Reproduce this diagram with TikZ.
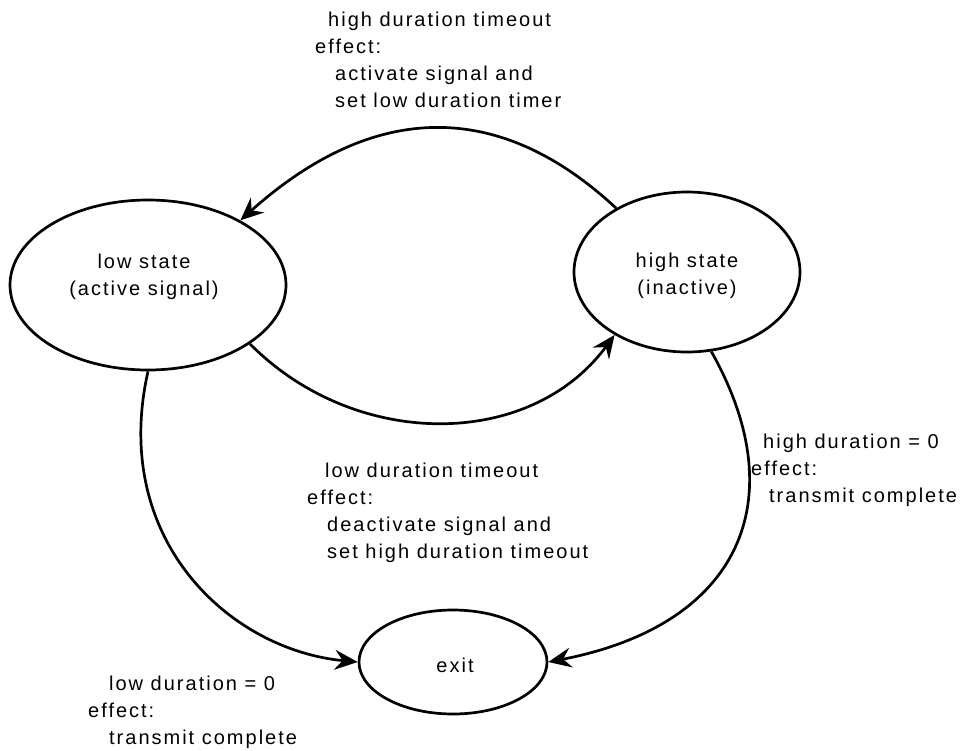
\documentclass[tikz,border=0pt]{standalone}
\usepackage{fontspec}
\setmainfont[LetterSpace=10]{Liberation Sans}
\usetikzlibrary{arrows.meta,shapes.geometric}
\begin{document}
\begin{tikzpicture}[x=1pt,y=-1pt,
  stateshape/.style={draw,ellipse,line width=2.7pt,inner sep=0pt},
  lbl/.style={anchor=north west,inner sep=0pt,align=left,font=\fontsize{20}{27}\selectfont},
  stxt/.style={anchor=north,inner sep=0pt,align=center,font=\fontsize{20}{27}\selectfont},
  conn/.style={line width=2.7pt,-{Stealth[length=23pt,width=20pt,inset=8pt]}}]
\useasboundingbox (0,0) rectangle (969,750);
\node[stateshape,minimum width=276pt,minimum height=170pt] (low) at (148,285) {};
\node[stateshape,minimum width=226pt,minimum height=160pt] (high) at (687,272) {};
\node[stateshape,minimum width=188pt,minimum height=104pt] (exit) at (453,662) {};
\node[stxt] (lowtxt) at (144,253.7) {low state\\(active signal)};
\node[stxt] (hightxt) at (687,252.7) {high state\\(inactive)};
\node[stxt] (exittxt) at (455,657.7) {exit};
\node[lbl] (toplbl) at (315,11.7) {\hspace*{13pt}high duration timeout\\effect:\\\hspace*{20pt}activate signal and\\\hspace*{20pt}set low duration timer};
\node[lbl] (midlbl) at (307,462.7) {\hspace*{18pt}low duration timeout\\effect:\\\hspace*{20pt}deactivate signal and\\\hspace*{20pt}set high duration timeout};
\node[lbl] (rightlbl) at (751,433.7) {\hspace*{12pt}high duration = 0\\effect:\\\hspace*{18pt}transmit complete};
\node[lbl] (leftlbl) at (88,675.7) {\hspace*{21pt}low duration = 0\\effect:\\\hspace*{21pt}transmit complete};
\draw[conn] (high.138) .. controls (500,100) and (375,100) .. (low.35);
\draw[conn] (low.-30) .. controls (355,450) and (530,450) .. (high.221);
\draw[conn] (low.-90) .. controls (110,540) and (230,650) .. (exit.west);
\draw[conn] (high.-73) .. controls (795,500) and (740,625) .. (exit.east);
\end{tikzpicture}
\end{document}
